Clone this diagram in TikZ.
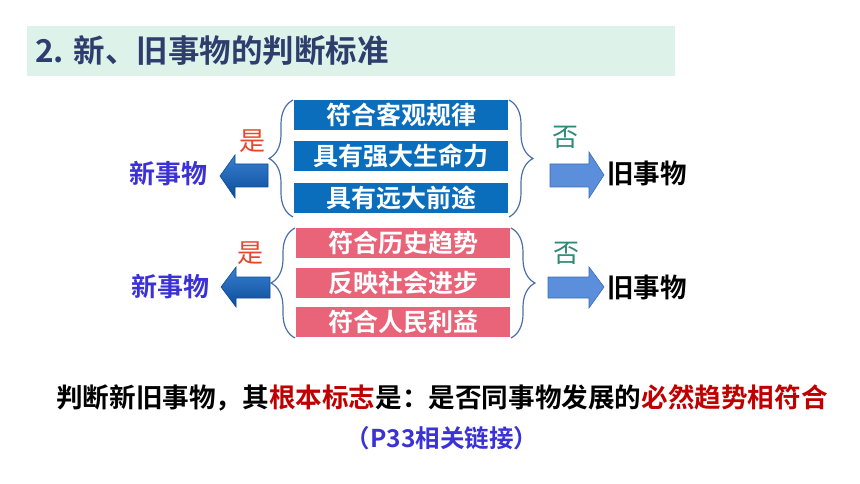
\documentclass[tikz,border=0pt]{standalone}
\usepackage{fontspec}
\setmainfont{Noto Sans CJK SC}[BoldFont={* Bold}]
\usetikzlibrary{decorations.pathreplacing}
\definecolor{bandc}{HTML}{DDF3EA}
\definecolor{titlec}{HTML}{2E3D6D}
\definecolor{boxblue}{HTML}{0A6EBD}
\definecolor{boxpink}{HTML}{E96379}
\definecolor{bracec}{HTML}{4D6FA8}
\definecolor{shic}{HTML}{E8462A}
\definecolor{fouc}{HTML}{2E8B75}
\definecolor{newc}{HTML}{3B32D6}
\definecolor{darkred}{HTML}{C00000}
\definecolor{arrowlight}{HTML}{5B8FDB}
\definecolor{arrowedge}{HTML}{3D6BB0}
\definecolor{arrowdark}{HTML}{0A4C98}
\definecolor{arrowmid}{HTML}{3A80D2}
\tikzset{
  itembox/.style={minimum width=214pt,minimum height=30pt,inner sep=0pt,text=white,
    font=\fontsize{25}{27}\selectfont\bfseries},
  bluebox/.style={itembox,fill=boxblue},
  pinkbox/.style={itembox,fill=boxpink},
  bracestyle/.style={draw=bracec,line width=1.2pt,decorate,decoration={brace,amplitude=24pt}},
  yeslabel/.style={text=shic,font=\fontsize{26}{28}\selectfont},
  nolabel/.style={text=fouc,font=\fontsize{26}{28}\selectfont},
  newlabel/.style={text=newc,font=\fontsize{26}{28}\selectfont\bfseries},
  oldlabel/.style={text=black,font=\fontsize{26.5}{28}\selectfont\bfseries},
  leftarrow/.style={top color=arrowmid,bottom color=arrowdark,draw=arrowdark,line width=0.6pt},
  rightarrow/.style={fill=arrowlight,draw=arrowedge,line width=0.6pt},
}
\begin{document}
\begin{tikzpicture}[x=1pt,y=-1pt]
\useasboundingbox (0,0) rectangle (860,484);
% title band
\fill[bandc] (27,26) rectangle (675,76);
\node[anchor=west,text=titlec,font=\fontsize{31.5}{33}\selectfont\bfseries,inner sep=0pt] (title) at (35,51) {2. 新、旧事物的判断标准};

% ---------- top group ----------
\node[bluebox] (a1) at (401,115) {符合客观规律};
\node[bluebox] (a2) at (401,156) {具有强大生命力};
\node[bluebox] (a3) at (401,198) {具有远大前途};
\draw[bracestyle] (293,217) -- (293,100);
\draw[bracestyle] (509,100) -- (509,217);
\draw[leftarrow] (268,164) -- (235,164) -- (235,155) -- (220,176) -- (235,198) -- (235,187) -- (268,187) -- cycle;
\draw[rightarrow] (550,164) -- (589,164) -- (589,152) -- (604,175) -- (589,198) -- (589,187) -- (550,187) -- cycle;
\node[yeslabel] (y1) at (252,141) {是};
\node[nolabel] (n1) at (565,137) {否};
\node[newlabel] (new1) at (168,174) {新事物};
\node[oldlabel] (old1) at (647,173) {旧事物};

% ---------- bottom group ----------
\node[pinkbox] (p1) at (403,243) {符合历史趋势};
\node[pinkbox] (p2) at (403,283) {反映社会进步};
\node[pinkbox] (p3) at (403,322) {符合人民利益};
\draw[bracestyle] (295,338) -- (295,228);
\draw[bracestyle] (511,228) -- (511,338);
\draw[leftarrow] (270,277) -- (236,277) -- (236,267) -- (221,287) -- (236,307) -- (236,298) -- (270,298) -- cycle;
\draw[rightarrow] (548,277) -- (589,277) -- (589,267) -- (604,287) -- (589,308) -- (589,298) -- (548,298) -- cycle;
\node[yeslabel] (y2) at (250,253) {是};
\node[nolabel] (n2) at (566,253) {否};
\node[newlabel] (new2) at (170,287) {新事物};
\node[oldlabel] (old2) at (647,287) {旧事物};

% ---------- bottom text ----------
\node[font=\fontsize{26.6}{28}\selectfont\bfseries,inner sep=0pt] (concl) at (442,398)
  {判断新旧事物，其\textcolor{darkred}{根本标志}是：是否同事物发展的\textcolor{darkred}{必然趋势相符合}};
\node[text=newc,font=\fontsize{24.5}{26}\selectfont\bfseries,inner sep=0pt] (ref) at (442,438) {（P33相关链接）};
\end{tikzpicture}
\end{document}
